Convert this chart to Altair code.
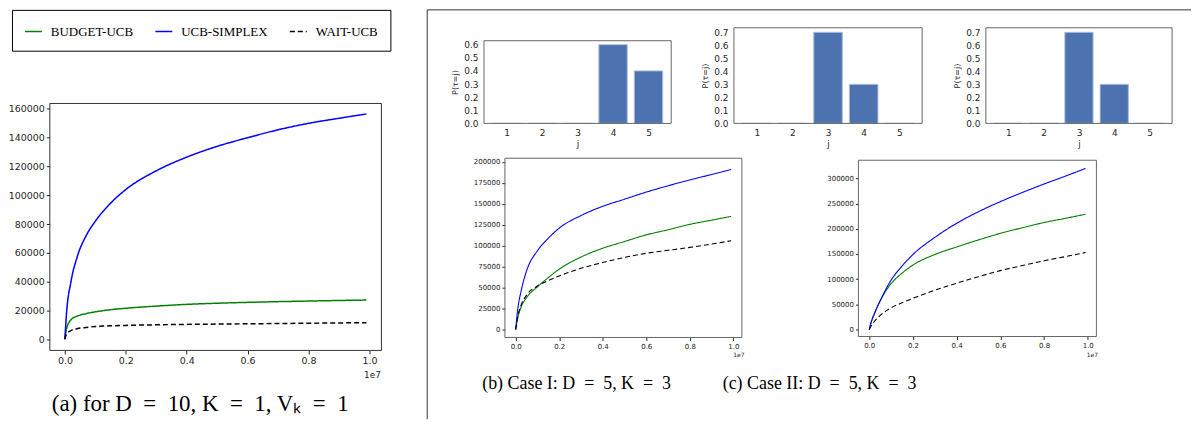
import altair as alt
import pandas as pd

SERIES = ["BUDGET-UCB", "UCB-SIMPLEX", "WAIT-UCB"]
COLORS = ["#008000", "#0000ff", "#000000"]
DASHES = [[1, 0], [1, 0], [5, 3]]

# ---- panel (a): D=10, K=1, V_k=1 (x in units of 1e7 steps) ----
a_steps = [0, 0.005, 0.02, 0.04, 0.07, 0.1, 0.15, 0.2, 0.3, 0.4, 0.5, 0.6, 0.7, 0.8, 0.9, 0.99]
a_budget = [0, 7000, 13500, 16000, 17800, 19000, 20500, 21500, 23000, 24200, 25000, 25600, 26100, 26500, 26900, 27200]
a_simplex = [0, 17000, 40000, 57000, 72000, 82000, 94500, 104000, 117000, 126500, 134000, 140000, 145500, 150000, 153500, 156500]
a_wait = [0, 3500, 6000, 7300, 8200, 8800, 9300, 9600, 10000, 10300, 10500, 10700, 10900, 11100, 11300, 11500]

# ---- panel (b): Case I ----
b_steps = [0, 0.01, 0.025, 0.05, 0.1, 0.15, 0.2, 0.3, 0.4, 0.5, 0.6, 0.7, 0.8, 0.9, 0.99]
b_budget = [0, 14000, 27000, 38000, 51000, 62000, 72000, 86500, 97000, 105000, 113000, 119000, 125500, 130500, 135000]
b_simplex = [0, 25000, 46000, 70000, 94000, 109000, 121000, 136000, 147000, 155500, 164000, 171500, 178500, 185000, 191000]
b_wait = [0, 16000, 29000, 41000, 52000, 58500, 64000, 73000, 80000, 86000, 91000, 94500, 98000, 102000, 106000]

# ---- panel (c): Case II ----
c_steps = [0, 0.01, 0.025, 0.05, 0.1, 0.15, 0.2, 0.3, 0.4, 0.5, 0.6, 0.7, 0.8, 0.9, 0.99]
c_budget = [0, 16000, 33000, 57000, 91000, 112000, 128000, 149000, 164000, 178000, 191000, 202000, 212500, 221000, 229000]
c_simplex = [0, 16000, 33000, 57000, 98000, 126000, 149000, 183000, 211000, 234000, 254000, 272000, 289000, 305000, 320000]
c_wait = [0, 8000, 17000, 28000, 43000, 53000, 62000, 78000, 92000, 105000, 117000, 127000, 136500, 145000, 153000]

# ---- delay distributions P(tau = j) ----
bar_j = [1, 2, 3, 4, 5]
bar_left = [0, 0, 0, 0.6, 0.4]
bar_mid = [0, 0, 0.7, 0.3, 0]
bar_right = [0, 0, 0.7, 0.3, 0]

W, H = 1184, 411
TICK_FONT = "DejaVu Sans"
TXT = "#262626"
SP = "\u2002"  # en space around '=' (math spacing)

legend = alt.Legend(
    orient="none", legendX=0, legendY=0, direction="horizontal", columns=3,
    title=None, symbolType="stroke", symbolSize=289, symbolStrokeWidth=1.5,
    labelFont="Liberation Serif", labelFontSize=13, labelColor="black",
    labelOffset=8, columnPadding=19, padding=12, strokeColor="black",
    fillColor="white",
)


def long_df(steps, budget, simplex, wait):
    rows = []
    for name, vals in zip(SERIES, [budget, simplex, wait]):
        for s, v in zip(steps, vals):
            rows.append({"step": s, "regret": v, "series": name})
    return pd.DataFrame(rows)


def line_panel(df, xr, yr, ydom, yticks, fs, sw, tick):
    return alt.Chart(df).mark_line(strokeWidth=sw, interpolate="monotone").encode(
        x=alt.X("step:Q",
                scale=alt.Scale(domain=[-0.0495, 1.0395], range=xr, nice=False, zero=False),
                axis=alt.Axis(orient="bottom", offset=yr[0] - H,
                              values=[0, 0.2, 0.4, 0.6, 0.8, 1.0], format=".1f",
                              title=None, grid=False, domain=False, tickSize=tick,
                              tickColor=TXT, labelColor=TXT, labelFont=TICK_FONT,
                              labelFontSize=fs, labelPadding=2, labelFlush=False,
                              labelOverlap=False)),
        y=alt.Y("regret:Q",
                scale=alt.Scale(domain=ydom, range=yr, nice=False, zero=False),
                axis=alt.Axis(orient="left", offset=-xr[0], values=yticks, format="d",
                              title=None, grid=False, domain=False, tickSize=tick,
                              tickColor=TXT, labelColor=TXT, labelFont=TICK_FONT,
                              labelFontSize=fs, labelPadding=2, labelOverlap=False)),
        color=alt.Color("series:N", scale=alt.Scale(domain=SERIES, range=COLORS), legend=legend),
        strokeDash=alt.StrokeDash("series:N", scale=alt.Scale(domain=SERIES, range=DASHES), legend=legend),
        order=alt.Order("step:Q"),
    )


def bar_panel(values, xr, yr, ytop, yticks):
    df = pd.DataFrame({"j": bar_j, "p": values})
    return alt.Chart(df).transform_calculate(
        x0="datum.j - 0.4", x1="datum.j + 0.4"
    ).mark_rect(color="#4C72B0", stroke="#a9bbdb", strokeWidth=1).encode(
        x=alt.X("x0:Q",
                scale=alt.Scale(domain=[0.36, 5.64], range=xr, nice=False, zero=False),
                axis=alt.Axis(orient="bottom", offset=yr[0] - H, values=bar_j, format="d",
                              title="j", titleFont=TICK_FONT, titleFontSize=9,
                              titleFontWeight="normal", titleColor=TXT, titlePadding=2,
                              grid=False, domain=False, tickSize=0, labelColor=TXT,
                              labelFont=TICK_FONT, labelFontSize=9, labelPadding=5,
                              labelFlush=False)),
        x2="x1:Q",
        y=alt.Y("p:Q",
                scale=alt.Scale(domain=[0, ytop], range=yr, nice=False, zero=False),
                axis=alt.Axis(orient="left", offset=-xr[0], values=yticks, format=".1f",
                              title="P(τ=j)", titleFont=TICK_FONT, titleFontSize=8,
                              titleFontWeight="normal", titleColor=TXT, titlePadding=4,
                              grid=False, domain=False, tickSize=0, labelColor=TXT,
                              labelFont=TICK_FONT, labelFontSize=9, labelPadding=6,
                              labelFlush=False, labelOverlap=False)),
        y2=alt.datum(0),
    )


one = pd.DataFrame({"k": [0]})


def frame(xr, yr, color, sw=1):
    return alt.Chart(one).mark_rect(fillOpacity=0, stroke=color, strokeWidth=sw).encode(
        x=alt.value(xr[0]), x2=alt.value(xr[1]), y=alt.value(yr[1]), y2=alt.value(yr[0])
    )


def label(text, x, y, size, font=TICK_FONT, color=TXT):
    return alt.Chart(one).mark_text(font=font, fontSize=size, color=color,
                                    align="center", baseline="middle").encode(
        x=alt.value(x), y=alt.value(y), text=alt.value(text)
    )


# panel geometry (plot areas)
A_X, A_Y = [38, 371], [342, 94]
B1_X, B1_Y = [474, 662], [114, 31]
B2_X, B2_Y = [725, 914], [114, 18]
B3_X, B3_Y = [978, 1165], [114, 18]
LB_X, LB_Y = [495, 733], [329, 149]
LC_X, LC_Y = [850, 1089], [328, 151]

cap_a = f"(a) for D{SP}={SP}10, K{SP}={SP}1, Vₖ{SP}={SP}1"
cap_b = f"(b) Case I: D{SP}={SP}5, K{SP}={SP}3"
cap_c = f"(c) Case II: D{SP}={SP}5, K{SP}={SP}3"

layers = [
    # right-panel enclosing frame
    alt.Chart(one).mark_rule(color="#333", strokeWidth=1).encode(
        x=alt.value(417), y=alt.value(0), y2=alt.value(H)),
    alt.Chart(one).mark_rule(color="#333", strokeWidth=1).encode(
        x=alt.value(417), x2=alt.value(W), y=alt.value(0)),
    # (a)
    line_panel(long_df(a_steps, a_budget, a_simplex, a_wait), A_X, A_Y,
               [-7800, 163800], list(range(0, 160001, 20000)), 9.5, 1.5, 3.5),
    frame(A_X, A_Y, "#333"),
    label("1e7", 362, 367, 9),
    label(cap_a, 189, 396, 23, "Liberation Serif", "black"),
    # bars
    bar_panel(bar_left, B1_X, B1_Y, 0.63, [0, 0.1, 0.2, 0.3, 0.4, 0.5, 0.6]),
    frame(B1_X, B1_Y, "#666"),
    bar_panel(bar_mid, B2_X, B2_Y, 0.735, [0, 0.1, 0.2, 0.3, 0.4, 0.5, 0.6, 0.7]),
    frame(B2_X, B2_Y, "#666"),
    bar_panel(bar_right, B3_X, B3_Y, 0.735, [0, 0.1, 0.2, 0.3, 0.4, 0.5, 0.6, 0.7]),
    frame(B3_X, B3_Y, "#666"),
    # (b)
    line_panel(long_df(b_steps, b_budget, b_simplex, b_wait), LB_X, LB_Y,
               [-9500, 204400], list(range(0, 200001, 25000)), 7, 1.1, 3),
    frame(LB_X, LB_Y, "#666"),
    label("1e7", 730, 347, 6),
    label(cap_b, 567, 376, 18, "Liberation Serif", "black"),
    # (c)
    line_panel(long_df(c_steps, c_budget, c_simplex, c_wait), LC_X, LC_Y,
               [-13800, 336200], list(range(0, 300001, 50000)), 7, 1.1, 3),
    frame(LC_X, LC_Y, "#666"),
    label("1e7", 1085, 347, 6),
    label(cap_c, 811, 376, 18, "Liberation Serif", "black"),
]

chart = alt.layer(*layers).resolve_scale(
    x="independent", y="independent"
).resolve_axis(
    x="independent", y="independent"
).properties(
    width=W, height=H, padding=0, background="white"
).configure_view(stroke=None, strokeWidth=0)

chart.save("out.html", embed_options={"renderer": "svg", "actions": False})
